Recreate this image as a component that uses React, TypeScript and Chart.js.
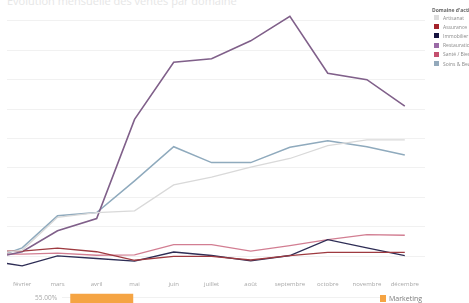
import React, { useEffect, useRef } from "react";
import { Chart, registerables } from "chart.js";

Chart.register(...registerables);

// ---- data ----
const dayOfYear = [19, 31, 59, 90, 120, 151, 181, 212, 243, 273, 304, 334];
const monthTicks = [31, 59, 90, 120, 151, 181, 212, 243, 273, 304, 334];
const monthLabels = ["février", "mars", "avril", "mai", "juin", "juillet", "août", "septembre", "octobre", "novembre", "décembre"];

const seriesNames = ["Artisanat", "Assurance", "Immobilier", "Restauration", "Santé / Bien-être", "Soins & Beauté"];
const artisanat = [1.4, 2.0, 13.2, 14.8, 15.4, 24.2, 26.9, 30.3, 33.2, 37.6, 39.5, 39.5];
const assurance = [1.7, 1.7, 2.7, 1.5, -1.4, -0.1, -0.1, -1.3, 0.2, 1.3, 1.3, 1.3];
const immobilier = [-2.5, -3.3, 0.1, -0.8, -1.7, 1.4, 0.2, -1.6, 0.2, 5.6, 2.8, 0.2];
const restauration = [0.4, 1.5, 8.6, 12.8, 46.5, 65.9, 67.1, 73.2, 81.5, 62.2, 60.0, 51.0];
const sante = [0.7, 0.7, 1.0, 0.3, 0.4, 3.9, 3.9, 1.7, 3.6, 5.6, 7.3, 7.1];
const soins = [1.0, 2.8, 13.7, 14.8, 25.6, 37.2, 31.8, 31.8, 37.0, 39.2, 37.2, 34.4];
const yGridTicks = [0, 10, 20, 30, 40, 50, 60, 70, 80];

const barCategories = ["Marketing"];
const marketingValues = [56.3];
const barTicks = [55, 50, 45, 40, 35, 30, 25, 20, 15, 10, 5, 0];

const lineColors = ["#d9d9d9", "#9e3a40", "#2e2d55", "#80608a", "#d27e92", "#8faabd"];
const swatchColors = ["#dcdcdc", "#a4232b", "#15133f", "#9a6aa6", "#c4506f", "#93a9bb"];
const lineWidths = [1.3, 1.3, 1.4, 1.6, 1.3, 1.5];

const FONT = "'Open Sans', sans-serif";

export default function App() {
  const lineRef = useRef<HTMLCanvasElement | null>(null);
  const barRef = useRef<HTMLCanvasElement | null>(null);

  useEffect(() => {
    const all = [artisanat, assurance, immobilier, restauration, sante, soins];
    const lineChart = new Chart(lineRef.current!, {
      type: "line",
      data: {
        datasets: all.map((vals, i) => ({
          label: seriesNames[i],
          data: vals.map((v, k) => ({ x: dayOfYear[k], y: v })),
          borderColor: lineColors[i],
          backgroundColor: lineColors[i],
          borderWidth: lineWidths[i],
          pointRadius: 0,
          tension: 0,
        })),
      },
      options: {
        animation: false,
        responsive: false,
        maintainAspectRatio: false,
        layout: { padding: { left: 7, right: 44, top: 12, bottom: 0 } },
        plugins: { legend: { display: false }, tooltip: { enabled: false }, title: { display: false } },
        scales: {
          x: {
            type: "linear",
            min: 19,
            max: 350,
            afterBuildTicks: (s: any) => {
              s.ticks = monthTicks.map((v) => ({ value: v }));
            },
            ticks: {
              autoSkip: false,
              maxRotation: 0,
              padding: 7,
              color: "#a8a8a8",
              font: { family: FONT, size: 6 },
              callback: (v: any) => {
                const i = monthTicks.indexOf(Number(v));
                return i >= 0 ? monthLabels[i] : "";
              },
            },
            grid: { display: false, drawTicks: false },
            border: { display: false },
          },
          y: {
            min: -6,
            max: 83,
            afterBuildTicks: (s: any) => {
              s.ticks = yGridTicks.map((v) => ({ value: v }));
            },
            afterFit: (s: any) => {
              s.width = 0;
            },
            ticks: { display: false },
            grid: { color: "#f1f1f1", lineWidth: 1, drawTicks: false },
            border: { display: false },
          },
        },
      },
    });

    const barChart = new Chart(barRef.current!, {
      type: "bar",
      data: {
        labels: [...barCategories, "", "", ""],
        datasets: [
          {
            label: "Marketing",
            data: [...marketingValues, null, null, null],
            backgroundColor: "#f5a443",
            categoryPercentage: 0.88,
            barPercentage: 0.9,
          },
        ],
      },
      options: {
        animation: false,
        responsive: false,
        maintainAspectRatio: false,
        layout: { padding: { left: 30, right: 0, top: 2, bottom: 0 } },
        plugins: { legend: { display: false }, tooltip: { enabled: false } },
        scales: {
          x: { display: false },
          y: {
            min: 0,
            max: 57.5,
            afterBuildTicks: (s: any) => {
              s.ticks = barTicks.map((v) => ({ value: v }));
            },
            afterFit: (s: any) => {
              s.width = 32;
            },
            ticks: {
              padding: 5,
              color: "#a8a8a8",
              font: { family: FONT, size: 6.5 },
              callback: (v: any) => Number(v).toFixed(2) + "%",
            },
            grid: { color: "#f1f1f1", drawTicks: false },
            border: { display: false },
          },
        },
      },
    });

    return () => {
      lineChart.destroy();
      barChart.destroy();
    };
  }, []);

  return (
    <div
      style={{
        position: "fixed",
        left: 0,
        top: 0,
        width: 469,
        height: 303,
        overflow: "hidden",
        background: "#fff",
        fontFamily: FONT,
      }}
    >
      <div
        style={{
          position: "absolute",
          left: 7,
          top: -7,
          fontSize: 11,
          color: "#e6e6e6",
          whiteSpace: "nowrap",
        }}
      >
        Évolution mensuelle des ventes par domaine
      </div>
      <canvas ref={lineRef} width={469} height={295} style={{ position: "absolute", left: 0, top: 0, width: 469, height: 295 }} />
      <div style={{ position: "absolute", left: 432, top: 7, fontSize: 5, fontWeight: 700, color: "#666", whiteSpace: "nowrap" }}>
        Domaine d'activité
      </div>
      {seriesNames.map((n, i) => (
        <div key={n} style={{ position: "absolute", left: 434, top: 14.5 + i * 9.2, height: 6, display: "flex", alignItems: "center", whiteSpace: "nowrap" }}>
          <div style={{ width: 5, height: 5, background: swatchColors[i], marginRight: 4 }} />
          <span style={{ fontSize: 5, color: "#8a8a8a" }}>{n}</span>
        </div>
      ))}
      <canvas ref={barRef} width={380} height={200} style={{ position: "absolute", left: 0, top: 281, width: 380, height: 200 }} />
      <div style={{ position: "absolute", left: 380, top: 294, display: "flex", alignItems: "center", whiteSpace: "nowrap" }}>
        <div style={{ width: 6, height: 7, background: "#f5a443", marginRight: 3 }} />
        <span style={{ fontSize: 7, color: "#7a7a7a" }}>Marketing</span>
      </div>
    </div>
  );
}
